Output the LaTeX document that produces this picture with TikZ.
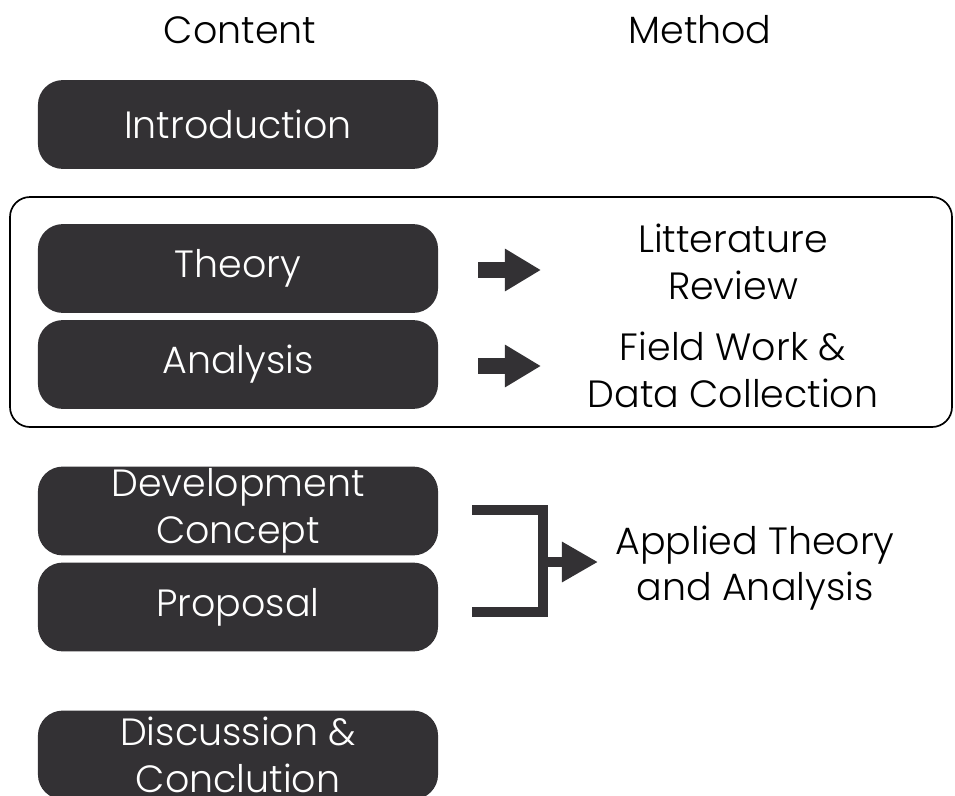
\documentclass[tikz,border=0pt]{standalone}
\usepackage{fontspec}
\setmainfont{Poppins}[UprightFont=* Light]
\usetikzlibrary{arrows.meta}
\definecolor{sombre}{RGB}{51,49,52}

\begin{document}
\begin{tikzpicture}[x=0.025cm, y=-0.025cm]
\tikzset{boite/.style={fill=sombre, text=white, rounded corners=0.62cm, minimum width=10cm, minimum height=2.22cm, inner sep=0pt, align=center, font=\fontsize{27}{33}\selectfont}}
\tikzset{texte/.style={align=center, inner sep=0pt, font=\fontsize{27}{33}\selectfont}}
\tikzset{fleche/.style={draw=sombre, line width=0.4cm, -{Triangle[length=0.9cm, width=1cm]}}}
\useasboundingbox (0,0) rectangle (955,796);
\node[texte] (C) at (240,30) {Content};
\node[texte] (M) at (700,30) {Method};
\draw[line width=1.2pt, rounded corners=0.5cm] (10,197) rectangle (952,427);
\node[boite] (B1) at (238,124.5) {Introduction};
\node[boite] (B2) at (238,268.5) {Theory};
\node[boite] (B3) at (238,364.5) {Analysis};
\node[boite] (B4) at (238,511) {Development\\Concept};
\node[boite] (B5) at (238,607) {Proposal};
\node[boite] (B6) at (238,755) {Discussion \&\\Conclution};
\node[texte] (M2) at (733,262) {Litterature\\Review};
\node[texte] (M3) at (733,370) {Field Work \&\\Data Collection};
\node[texte] (M4) at (755,568) {Applied Theory\\and Analysis};
\coordinate (T2) at (478,270);
\coordinate (T3) at (478,366);
\coordinate (H2) at (541,270);
\coordinate (H3) at (541,366);
\draw[fleche] (T2) -- (H2);
\draw[fleche] (T3) -- (H3);
\coordinate (A) at (472,510);
\coordinate (B) at (472,612);
\coordinate (J) at (543,562);
\coordinate (H4) at (598,562);
\draw[sombre, line width=0.25cm] (A) -| (J) |- (B);
\draw[sombre, line width=0.25cm, -{Triangle[length=0.9cm, width=0.95cm]}] (J) -- (H4);
\end{tikzpicture}
\end{document}
